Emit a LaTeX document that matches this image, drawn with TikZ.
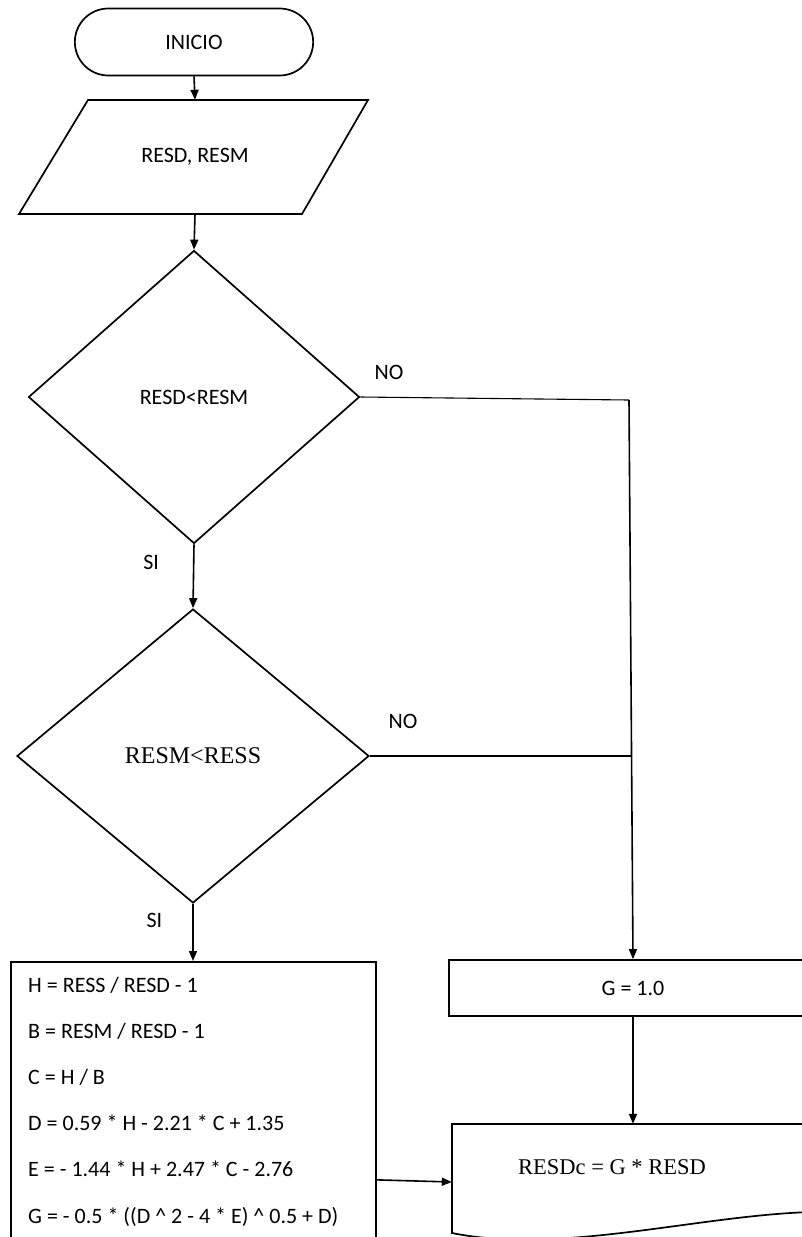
\documentclass[tikz,border=0pt]{standalone}
\usepackage{fontspec}
\setmainfont{Carlito}
\newfontfamily\timesfont{Liberation Serif}
\usetikzlibrary{shapes.geometric,shapes.misc,arrows.meta}

\begin{document}
\begin{tikzpicture}[x=1pt,y=-1pt,
    font=\fontsize{22}{26}\selectfont,
    shp/.style={draw,line width=1.7pt},
    arr/.style={-{Triangle[length=10pt,width=8pt]},line width=1.6pt},
    ln/.style={line width=1.1pt},
    lbl/.style={inner sep=0pt}]
      \useasboundingbox (0,0) rectangle (802,1237) ;
      \clip (0,0) rectangle (802,1237) ;
      % inicio y entrada
      \node[shp,rounded rectangle,minimum width=245pt,minimum height=67pt] (ini) at (194,42) {INICIO} ;
      \draw[shp] (88,100) -- (368,100) -- (302,214) -- (19,214) -- cycle ;
      \node[minimum height=114pt,inner sep=0pt] (inp) at (195,157) {RESD, RESM} ;
      % decisiones
      \node[shp,diamond,minimum width=331pt,minimum height=293pt,inner sep=0pt] (d1) at (194,397) {RESD<RESM} ;
      \node[shp,diamond,minimum width=352pt,minimum height=294pt,inner sep=0pt,
            font=\timesfont\fontsize{24}{28}\selectfont] (d2) at (193,756) {RESM<RESS} ;
      \node[lbl] (no1) at (389,372) {NO} ;
      \node[lbl] (no2) at (403,721) {NO} ;
      % calculo
      \node[shp,anchor=north west,minimum width=365pt,minimum height=436pt] (calc) at (10,961) {} ;
      \foreach \eq [count=\i] in {{H = RESS / RESD - 1},{B = RESM / RESD - 1},{C = H / B},
          {D = 0.59 * H - 2.21 * C + 1.35},{E = - 1.44 * H + 2.47 * C - 2.76},
          {G = - 0.5 * ((D \textasciicircum{} 2 - 4 * E) \textasciicircum{} 0.5 + D)}}
        \node[anchor=base west,inner sep=0pt] (eq\i) at (28,{992+46.2*(\i-1)}) {\eq} ;
      \node[shp,minimum width=368pt,minimum height=56pt] (g) at (633,988) {G = 1.0} ;
      % salida
      \draw[shp] (452,1233) -- (452,1124) -- (812,1124) -- (812,1212) %
        .. controls (700,1215) and (560,1255) .. (452,1233) -- cycle ;
      \node[minimum width=360pt,minimum height=116pt,inner sep=0pt] (outp) at (632,1182) {} ;
      \node[inner sep=0pt,font=\timesfont\fontsize{22.5}{27}\selectfont] (outtxt) at (612,1167) {RESDc = G * RESD} ;
      % conectores
      \coordinate (j1) at (629,400) ;
      \coordinate (j2) at (631,756) ;
      \draw[arr] (ini.south) -- (inp.north) ;
      \draw[arr] (inp.south) -- (d1.north) ;
      \draw[arr] (d1.south) -- node[lbl,pos=0.29,left=34pt] {SI} (d2.north) ;
      \draw[arr] (d2.south) -- node[lbl,pos=0.29,left=30pt] {SI} (d2.south |- calc.north) ;
      \draw[ln] (d1.east) -- (j1) ;
      \draw[ln] (d2.east) -- (j2) ;
      \draw[arr] (j1) -- (g.north) ;
      \draw[arr] (g.south) -- (g.south |- outp.north) ;
      \draw[arr] (calc.east) -- (outp.west) ;
    \end{tikzpicture}
\end{document}
